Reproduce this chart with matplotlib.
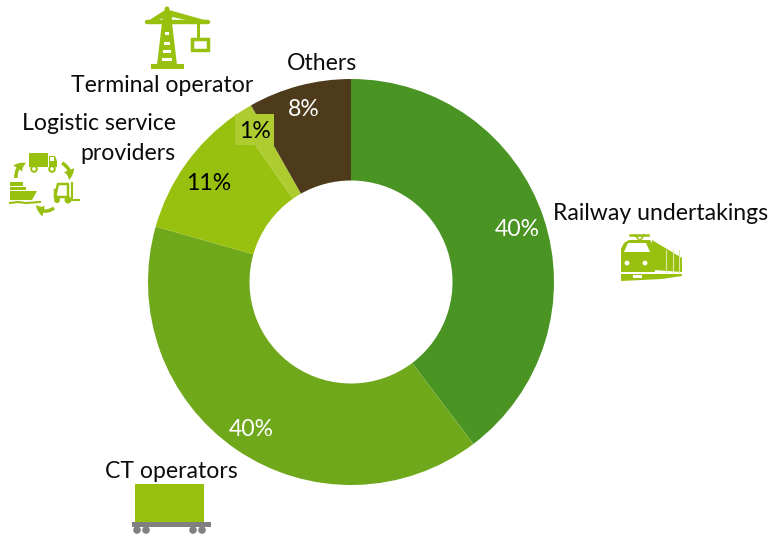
import matplotlib
matplotlib.use('Agg')
import matplotlib.pyplot as plt
from matplotlib.patches import Polygon, Rectangle, Circle, FancyArrowPatch

categories = ['Railway undertakings', 'CT operators', 'Logistic service providers', 'Terminal operator', 'Others']
values = [39.7, 39.7, 10.9, 1.5, 8.2]
value_labels = ['40%', '40%', '11%', '1%', '8%']
colors = ['#4a9424', '#70a81c', '#98c00e', '#aecb30', '#4e3b1c']

plt.rcParams['font.family'] = ['Lato', 'DejaVu Sans']
W, H = 771, 536
LIGHT = '#98c00e'
fig = plt.figure(figsize=(W / 100, H / 100), dpi=100)

# donut
cx, cy, r = 351, 282, 203
pie_ax = fig.add_axes([(cx - r) / W, 1 - (cy + r) / H, 2 * r / W, 2 * r / H])
pie_ax.pie(values, colors=colors, startangle=90, counterclock=False, radius=1,
           wedgeprops={'width': 0.5})
pie_ax.set_xlim(-1, 1)
pie_ax.set_ylim(-1, 1)

# overlay in pixel coordinates for the text and the icons
ax = fig.add_axes([0, 0, 1, 1], zorder=5)
ax.set_xlim(0, W)
ax.set_ylim(H, 0)
ax.axis('off')
fs = 16.6
TXT = '#0c0c0c'

ax.text(553, 213, categories[0], fontsize=fs, va='center', color=TXT)
ax.text(171, 472, categories[1], fontsize=fs, va='center', ha='center', color=TXT)
ax.text(176, 124, 'Logistic service', fontsize=fs, va='center', ha='right', color=TXT)
ax.text(176, 154, 'providers', fontsize=fs, va='center', ha='right', color=TXT)
ax.text(162, 86, categories[3], fontsize=fs, va='center', ha='center', color=TXT)
ax.text(322, 63, categories[4], fontsize=fs, va='center', ha='center', color=TXT)

ax.text(517, 229, value_labels[0], fontsize=fs, va='center', ha='center', color='white')
ax.text(251, 430, value_labels[1], fontsize=fs, va='center', ha='center', color='white')
ax.text(209, 183, value_labels[2], fontsize=fs, va='center', ha='center', color='black')
ax.add_patch(Rectangle((235, 114), 39, 31, color='#aecb30', lw=0))
ax.text(255, 131, value_labels[3], fontsize=fs, va='center', ha='center', color='black')
ax.text(304, 109, value_labels[4], fontsize=fs, va='center', ha='center', color='white')

# crane
ax.plot([147, 208], [22, 22], color=LIGHT, lw=3.2, solid_capstyle='round')
ax.add_patch(Polygon([(148, 21), (165, 10), (169, 10), (208, 21)], color=LIGHT, lw=0))
ax.add_patch(Polygon([(159, 20), (165, 17), (165, 20)], color='white', lw=0))
ax.add_patch(Polygon([(172, 17), (186, 20), (172, 20)], color='white', lw=0))
ax.add_patch(Circle((167, 9), 2.5, color=LIGHT, lw=0))
ax.add_patch(Polygon([(163, 14), (171, 14), (177, 65), (157, 65)], color=LIGHT, lw=0))
for y, w in [(32, 2), (42, 3), (50, 4), (58, 5)]:
    ax.add_patch(Rectangle((167 - w, y), 2 * w, 3, color='white', lw=0))
ax.add_patch(Rectangle((151, 64), 33, 5, color=LIGHT, lw=0))
ax.add_patch(Rectangle((197, 23), 3, 16, color=LIGHT, lw=0))
ax.add_patch(Rectangle((192, 39), 16, 11, fc='white', ec=LIGHT, lw=2.5))

# train
ax.add_patch(Polygon([(652, 240), (682, 258), (682, 272), (654, 270)], color=LIGHT, lw=0))
for x in [666, 673, 679]:
    ax.plot([x, x], [250, 272], color='#dfe9a8', lw=0.8)
ax.add_patch(Polygon([(629, 240), (650, 240), (654, 246), (655, 272), (621, 272), (621, 249), (624, 243)],
                     color=LIGHT, lw=0))
ax.add_patch(Polygon([(628, 243), (646, 243), (650, 252), (624, 252)], color='white', lw=0))
ax.add_patch(Circle((627, 263), 2.4, color='white', lw=0))
ax.add_patch(Circle((645, 263), 2.4, color='white', lw=0))
ax.plot([630, 648], [235, 235], color=LIGHT, lw=1.8)
ax.plot([635, 640, 644], [235, 241, 235], color=LIGHT, lw=1.2)
ax.add_patch(Polygon([(621, 274), (682, 274), (682, 276), (662, 279), (621, 281)], color=LIGHT, lw=0))
ax.add_patch(Rectangle((633, 275), 9, 2.5, color='white', lw=0))

# wagon
ax.add_patch(Rectangle((135, 484), 69, 38, color=LIGHT, lw=0))
ax.add_patch(Rectangle((132, 522), 79, 5, color='#808080', lw=0))
for x in [137, 146, 193, 202]:
    ax.add_patch(Circle((x, 530), 3.8, color='#808080', lw=0))

# logistic: truck
ax.add_patch(Rectangle((29, 153), 19, 14, color=LIGHT, lw=0))
ax.add_patch(Polygon([(49, 156), (55, 156), (57, 161), (57, 167), (49, 167)], color=LIGHT, lw=0))
ax.add_patch(Rectangle((50, 157), 4, 4, color='white', lw=0))
for x in [34, 52]:
    ax.add_patch(Circle((x, 169), 2.8, fc='white', ec=LIGHT, lw=1.4))

# logistic: ship
ax.add_patch(Rectangle((10, 182), 13, 4, color=LIGHT, lw=0))
ax.add_patch(Rectangle((10, 187), 16, 3, color=LIGHT, lw=0))
ax.add_patch(Polygon([(10, 191), (37, 191), (32, 200), (10, 200)], color=LIGHT, lw=0))
ax.plot([10, 18, 26, 40], [203, 202, 203, 202], color=LIGHT, lw=1.5)

# logistic: forklift
ax.plot([55, 58, 68, 68, 55, 55], [197, 184, 184, 197, 197, 190], color=LIGHT, lw=1.8)
ax.plot([72, 72, 79], [183, 200, 200], color=LIGHT, lw=1.5)
ax.add_patch(Circle((57, 200), 3, color=LIGHT, lw=0))
ax.add_patch(Circle((68, 200), 3.5, color=LIGHT, lw=0))

# logistic: arrows
for a, b, rad in [((16, 178), (26, 163), -0.4), ((62, 163), (69, 180), -0.4), ((54, 208), (36, 205), -0.5)]:
    ax.add_patch(FancyArrowPatch(a, b, connectionstyle=f'arc3,rad={rad}',
                                 arrowstyle='simple,head_length=0.7,head_width=0.8,tail_width=0.25',
                                 mutation_scale=10, color=LIGHT, lw=0, shrinkA=0, shrinkB=0))

fig.savefig('out.png', dpi=100)
